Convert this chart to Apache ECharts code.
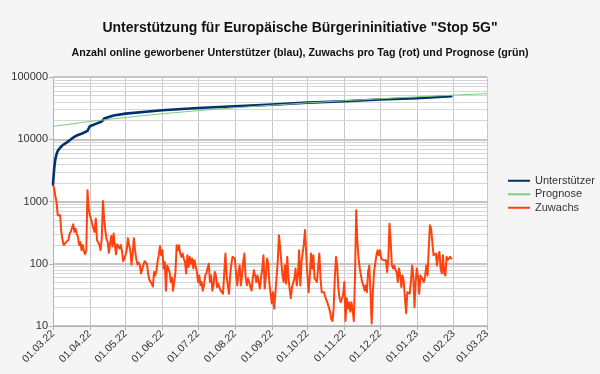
<!DOCTYPE html>
<html>
<head>
<meta charset="utf-8">
<script src="https://cdn.jsdelivr.net/npm/echarts@6/dist/echarts.min.js"></script>
<style>html,body{margin:0;padding:0;background:#f5f5f5;}#c{width:600px;height:374px;}</style>
</head>
<body>
<div id="c"></div>
<script>
// ---- data ----
const titleText = 'Unterstützung für Europäische Bürgerininitiative "Stop 5G"';
const subtitleText = 'Anzahl online geworbener Unterstützer (blau), Zuwachs pro Tag (rot) und Prognose (grün)';
const seriesNames = ['Unterstützer', 'Prognose', 'Zuwachs'];
const yTicks = [10, 100, 1000, 10000, 100000];
const minorGridValues = [20,30,40,50,60,70,80,90,200,300,400,500,600,700,800,900,2000,3000,4000,5000,6000,7000,8000,9000,20000,30000,40000,50000,60000,70000,80000,90000];
const xMin = '2022-03-01';
const xMax = '2023-03-01';

const unterstuetzerDates = ['2022-03-01','2022-03-02','2022-03-03','2022-03-04','2022-03-05','2022-03-07','2022-03-09','2022-03-13','2022-03-17','2022-03-21','2022-03-26','2022-03-30','2022-03-31','2022-04-01','2022-04-07','2022-04-11','2022-04-12','2022-04-13','2022-04-21','2022-05-01','2022-06-01','2022-07-01','2022-08-01','2022-09-01','2022-10-01','2022-11-01','2022-12-01','2023-01-01','2023-01-30'];
const unterstuetzerValues = [1900,3400,4800,5800,6500,7300,8000,9000,10300,11500,12500,13600,15000,16200,18000,19300,20500,21500,24000,25800,29200,31700,33800,36000,38800,40700,43400,45500,49000];

const prognoseDates = ['2022-03-01','2022-04-01','2022-05-01','2022-06-01','2022-07-01','2022-08-01','2022-09-01','2022-10-01','2022-11-01','2022-12-01','2023-01-01','2023-02-01','2023-03-01'];
const prognoseValues = [16100,19300,22400,25700,28800,32000,35200,38400,41600,44700,48000,51100,54000];

// daily values starting 01.03.2022
const zuwachsStart = [2022, 2, 1];
const zuwachsValues = [
1870,1620,1200,980,600,560,600,325,240,200,
193,223,230,240,305,330,345,430,325,365,
300,270,200,223,165,200,160,142,165,1510,
750,600,520,500,365,325,530,240,220,200,
165,250,1020,530,345,250,223,150,210,280,
190,305,200,142,205,190,175,200,160,110,
120,140,165,258,200,165,97,145,258,165,
120,97,105,95,70,67,95,110,115,100,
70,55,58,48,43,74,65,78,110,140,
193,
137,165,84,107,37,94,100,74,51,60,
37,51,74,198,165,198,146,129,146,120,
107,70,137,89,129,100,121,84,114,90,
74,51,65,45,51,37,45,65,70,85,
100,51,65,37,45,74,65,42,48,42,
37,35,33,31,146,65,45,33,65,100,
129,137,121,65,45,74,94,45,65,110,
146,61,45,58,51,42,37,58,79,65,
51,65,51,40,60,84,137,40,
61,121,100,48,33,23,35,19,33,60,
107,287,186,107,65,51,94,48,129,58,40,
28,42,45,58,84,45,65,165,45,107,150,
211,349,137,65,35,65,146,84,137,58,55,
51,89,146,58,35,33,35,29,28,23,20,
17,13,12,19,58,129,94,40,28,24,28,
31,51,12,28,19,24,17,24,18,12,65,
722,224,121,84,65,51,45,37,45,35,74,94,
35,11,35,74,100,137,165,137,165,121,118,
114,121,114,74,121,441,224,94,84,94,80,
74,51,84,65,42,65,51,28,16,35,34,
33,51,94,65,20,51,84,61,33,65,60,
58,51,65,94,65,175,415,367,349,137,140,
146,94,137,155,84,70,137,70,65,129,115,
107,129,121
];

// ---- build ----
const FONT = 'Liberation Sans, Arial, sans-serif';
function pad(n){ return (n < 10 ? '0' : '') + n; }
function fmtDate(v){ const d = new Date(v); return pad(d.getDate()) + '.' + pad(d.getMonth() + 1) + '.' + String(d.getFullYear()).slice(2); }
const zuwachsData = zuwachsValues.map((v, i) => [new Date(zuwachsStart[0], zuwachsStart[1], zuwachsStart[2] + i).getTime(), v]);
const unterstuetzerData = unterstuetzerDates.map((d, i) => [d, unterstuetzerValues[i]]);
const prognoseData = prognoseDates.map((d, i) => [d, prognoseValues[i]]);

const chart = echarts.init(document.getElementById('c'), null, {renderer: 'canvas'});
chart.setOption({
  backgroundColor: '#f5f5f5',
  animation: false,
  title: [
    {text: titleText, left: 'center', top: 16, textStyle: {fontFamily: FONT, fontSize: 14, fontWeight: 'bold', color: '#111'}},
    {text: subtitleText, left: 'center', top: 43, textStyle: {fontFamily: FONT, fontSize: 10.7, fontWeight: 'bold', color: '#111'}}
  ],
  legend: {
    data: seriesNames, orient: 'vertical', left: 503, top: 169,
    icon: 'rect', itemWidth: 22, itemHeight: 2, itemGap: 0,
    textStyle: {fontFamily: FONT, fontSize: 11, color: '#333', lineHeight: 13.5}
  },
  grid: {left: 53, right: 113, top: 77, bottom: 48, show: true, backgroundColor: '#ffffff', borderWidth: 0, containLabel: false},
  xAxis: {
    type: 'time', min: xMin, max: xMax, splitNumber: 12,
    axisLine: {lineStyle: {color: '#b3b3b3'}},
    axisTick: {show: true, length: 4, lineStyle: {color: '#b3b3b3'}},
    axisLabel: {rotate: 45, formatter: fmtDate, color: '#333', fontFamily: FONT, fontSize: 10.5, margin: 6, showMinLabel: true, showMaxLabel: true, hideOverlap: false},
    splitLine: {show: true, lineStyle: {color: '#c8c8c8', width: 1}}
  },
  yAxis: {
    type: 'log', logBase: 10, min: yTicks[0], max: yTicks[yTicks.length - 1],
    axisLine: {show: true, lineStyle: {color: '#b3b3b3'}},
    axisTick: {show: true, length: 4, lineStyle: {color: '#b3b3b3'}},
    axisLabel: {formatter: v => String(Math.round(v)), color: '#333', fontFamily: FONT, fontSize: 11, margin: 5},
    splitLine: {show: true, lineStyle: {color: '#c4c4c4', width: 2}}
  },
  series: [
    {
      name: 'grid', type: 'line', data: [], z: 0, silent: true,
      markLine: {z: 0, silent: true, symbol: ['none', 'none'], label: {show: false}, animation: false,
        lineStyle: {color: '#d6d6d6', width: 1, type: 'solid'},
        data: minorGridValues.map(v => ({yAxis: v}))}
    },
    {name: seriesNames[0], type: 'line', data: unterstuetzerData, symbol: 'none', z: 11,
      lineStyle: {color: '#00306e', width: 2.6, join: 'round', cap: 'round'}, itemStyle: {color: '#00306e'}},
    {name: seriesNames[1], type: 'line', data: prognoseData, symbol: 'none', z: 12,
      lineStyle: {color: '#80cc80', width: 1}, itemStyle: {color: '#80cc80'}},
    {name: seriesNames[2], type: 'line', data: zuwachsData, symbol: 'none', z: 10,
      lineStyle: {color: '#ff420e', width: 2, join: 'round', cap: 'round'}, itemStyle: {color: '#ff420e'}}
  ]
});
</script>
</body>
</html>
